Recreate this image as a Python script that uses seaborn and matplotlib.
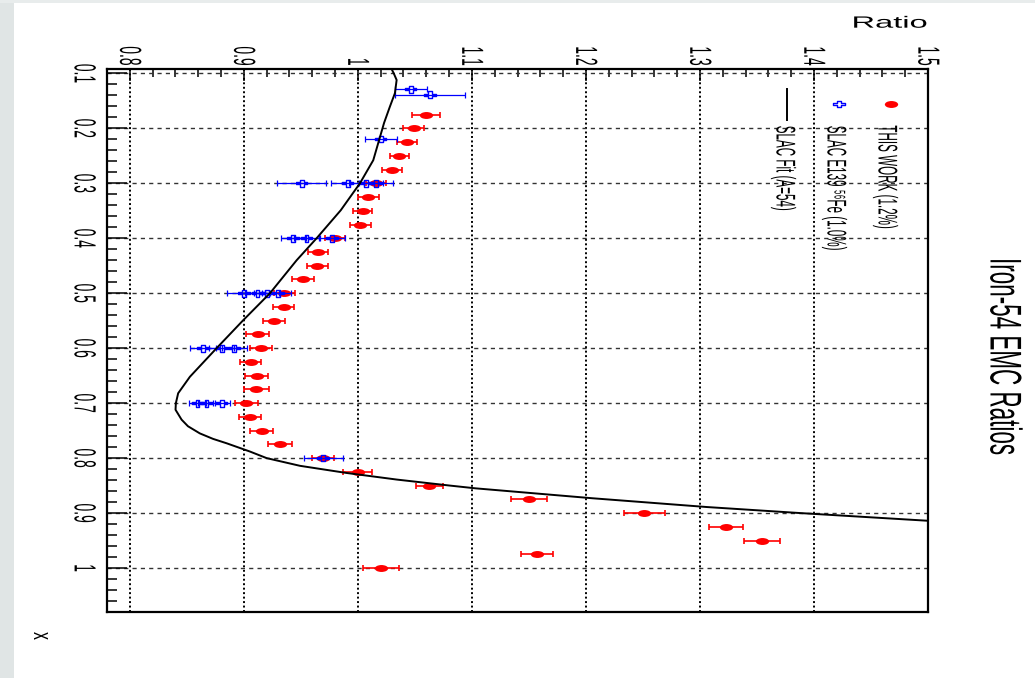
import numpy as np
import matplotlib
matplotlib.use("Agg")
import matplotlib.pyplot as plt
import seaborn as sns
from matplotlib.path import Path
from matplotlib.transforms import Affine2D
from matplotlib.patheffects import AbstractPathEffect
from matplotlib.ticker import MultipleLocator
from matplotlib.lines import Line2D
from matplotlib.patches import Rectangle

# ---------------- data ----------------
this_x = [0.175, 0.200, 0.225, 0.250, 0.275, 0.300, 0.325, 0.350, 0.375, 0.400,
          0.425, 0.450, 0.475, 0.500, 0.525, 0.550, 0.575, 0.600, 0.625, 0.650,
          0.675, 0.700, 0.725, 0.750, 0.775, 0.800, 0.825, 0.850, 0.875, 0.900,
          0.925, 0.950, 0.975, 1.000]
this_ratio = [1.0595, 1.0489, 1.0431, 1.0363, 1.0302, 1.0157, 1.0091, 1.0042, 1.0021, 0.9799,
              0.9647, 0.9645, 0.9521, 0.9356, 0.9348, 0.9264, 0.9121, 0.9150, 0.9059, 0.9114,
              0.9108, 0.9021, 0.9053, 0.9156, 0.9319, 0.9696, 0.9998, 1.0626, 1.1501, 1.2513,
              1.3230, 1.3543, 1.1569, 1.0200]
this_err = [0.0123, 0.0092, 0.0086, 0.0083, 0.0088, 0.0088, 0.0090, 0.0083, 0.0090, 0.0088,
            0.0088, 0.0090, 0.0097, 0.0095, 0.0095, 0.0095, 0.0102, 0.0095, 0.0092, 0.0102,
            0.0110, 0.0102, 0.0097, 0.0102, 0.0104, 0.0098, 0.0129, 0.0118, 0.0162, 0.0183,
            0.0149, 0.0161, 0.0139, 0.0157]

slac_x = [0.129, 0.139, 0.2195, 0.3, 0.3, 0.3, 0.3, 0.4, 0.4, 0.4,
          0.5, 0.5, 0.5, 0.5, 0.6, 0.6, 0.6, 0.7, 0.7, 0.7, 0.8]
slac_ratio = [1.0463, 1.0635, 1.0200, 0.9507, 0.9910, 1.0071, 1.0159, 0.9433, 0.9550, 0.9775,
              0.9003, 0.9120, 0.9200, 0.9300, 0.8643, 0.8805, 0.8915, 0.8594, 0.8673, 0.8805,
              0.9696]
slac_err = [0.0140, 0.0307, 0.0139, 0.0213, 0.0146, 0.0146, 0.0146, 0.0111, 0.0111, 0.0111,
            0.0155, 0.0110, 0.0110, 0.0110, 0.0117, 0.0110, 0.0110, 0.0075, 0.0075, 0.0075,
            0.0171]

fit_x = [0.092, 0.101, 0.112, 0.136, 0.161, 0.190, 0.258, 0.300, 0.349, 0.400,
         0.440, 0.500, 0.549, 0.600, 0.652, 0.682, 0.700, 0.712, 0.730, 0.742,
         0.755, 0.765, 0.773, 0.788, 0.800, 0.814, 0.827, 0.839, 0.850, 0.855,
         0.873, 0.889, 0.900, 0.914]
fit_ratio = [1.0296, 1.0317, 1.0340, 1.0325, 1.0280, 1.0230, 1.0135, 1.0018, 0.9850, 0.9638,
             0.9463, 0.9229, 0.8995, 0.8761, 0.8527, 0.8424, 0.8404, 0.8401, 0.8454, 0.8510,
             0.8614, 0.8730, 0.8849, 0.9053, 0.9200, 0.9492, 0.9900, 1.0340, 1.0808, 1.1033,
             1.2055, 1.3060, 1.3880, 1.5000]

ratio_ticks = [0.8, 0.9, 1.0, 1.1, 1.2, 1.3, 1.4, 1.5]
ratio_tick_labels = ["0.8", "0.9", "1", "1.1", "1.2", "1.3", "1.4", "1.5"]
x_ticks = [0.1, 0.2, 0.3, 0.4, 0.5, 0.6, 0.7, 0.8, 0.9, 1.0]
x_tick_labels = ["0.1", "0.2", "0.3", "0.4", "0.5", "0.6", "0.7", "0.8", "0.9", "1"]

title_text = "Iron-54 EMC Ratios"
ratio_label = "Ratio"
x_label = "x"
legend_labels = ["THIS WORK (1.2%)", "SLAC E139 \u2075\u2076Fe (1.0%)", "SLAC Fit (A=54)"]

# ---------------- style helpers ----------------
plt.rcParams['font.family'] = ['Liberation Sans', 'DejaVu Sans']


class Squash(AbstractPathEffect):
    """Rescale glyph outlines along the text's own axes (reference text is condensed)."""
    def __init__(self, sx=1.0, sy=1.0, anchor_x='center', anchor_y='center'):
        super().__init__()
        self.sx, self.sy = sx, sy
        self.anchor_x, self.anchor_y = anchor_x, anchor_y

    def draw_path(self, renderer, gc, tpath, affine, rgbFace=None):
        if len(tpath.vertices):
            e = tpath.get_extents()
            cx = {'min': e.x0, 'max': e.x1, 'center': 0.5 * (e.x0 + e.x1)}[self.anchor_x]
            cy = {'min': e.y0, 'max': e.y1, 'center': 0.5 * (e.y0 + e.y1)}[self.anchor_y]
            t = Affine2D().translate(-cx, -cy).scale(self.sx, self.sy).translate(cx, cy)
            affine = t + affine
        renderer.draw_path(gc, tpath, affine, rgbFace)


W, H = 1035, 678
PT = 0.72  # points per pixel at dpi 100


def fx(px):
    return px / W


def fy(py):
    return 1 - py / H


fig = plt.figure(figsize=(W / 100, H / 100), dpi=100)
fig.patch.set_facecolor('white')
# screenshot border (light grey strip on the left and top)
fig.add_artist(Rectangle((0, 0), fx(14), 1, transform=fig.transFigure,
                         facecolor='#e0e5e5', edgecolor='none', zorder=-5))
fig.add_artist(Rectangle((0, fy(3)), 1, 3 / H, transform=fig.transFigure,
                         facecolor='#e8ecec', edgecolor='none', zorder=-5))

L, R, T, B = 107, 928, 69, 612
ax = fig.add_axes([fx(L), fy(B), (R - L) / W, (B - T) / H])
ax.set_facecolor('white')

# custom squashed markers
ellipse = Affine2D().scale(1.0, 0.52).transform_path(Path.unit_circle())
a = 0.33
cross_verts = [(-a, 1), (a, 1), (a, a), (1, a), (1, -a), (a, -a), (a, -1), (-a, -1),
               (-a, -a), (-1, -a), (-1, a), (-a, a), (-a, 1)]
cross = Path([(vx, vy * 0.58) for vx, vy in cross_verts], closed=True)

# ---------------- data layers ----------------
ax.errorbar(this_ratio, this_x, xerr=this_err, fmt='none', ecolor='#ff0000',
            elinewidth=1.2, capsize=2.5, capthick=1.2, zorder=2)
sns.scatterplot(x=this_ratio, y=this_x, marker=ellipse, s=92, color='#ff0000',
                edgecolor='#ff0000', linewidth=0, ax=ax, zorder=3, legend=False)

ax.errorbar(slac_ratio, slac_x, xerr=slac_err, fmt='none', ecolor='#0000ff',
            elinewidth=0.9, capsize=2.3, capthick=0.9, zorder=4)
sns.scatterplot(x=slac_ratio, y=slac_x, marker=cross, s=70, color='#0000ff',
                facecolor='none', edgecolor='#0000ff', linewidth=1.0, ax=ax,
                zorder=5, legend=False)

sns.lineplot(x=fit_ratio, y=fit_x, sort=False, estimator=None, color='black',
             lw=1.4, ax=ax, zorder=6, legend=False)

# ---------------- axes ----------------
ax.set_xlim(0.78, 1.5)
ax.set_ylim(1.08, 0.092)
ax.set_xlabel("")
ax.set_ylabel("")

ax.set_xticks(ratio_ticks)
ax.set_xticklabels(ratio_tick_labels)
ax.xaxis.set_minor_locator(MultipleLocator(0.02))
ax.set_yticks(x_ticks)
ax.set_yticklabels(x_tick_labels)
ax.yaxis.set_minor_locator(MultipleLocator(0.02))

ax.tick_params(axis='x', which='both', direction='in', top=True, bottom=False,
               labeltop=True, labelbottom=False, color='black', width=1.1,
               labelsize=10, pad=2.5)
ax.tick_params(axis='x', which='major', length=12 * PT)
ax.tick_params(axis='x', which='minor', length=8 * PT)
ax.tick_params(axis='y', which='both', direction='in', left=True, right=False,
               labelleft=True, labelright=False, color='black', width=1.1,
               labelsize=10, pad=11.3)
ax.tick_params(axis='y', which='major', length=20 * PT)
ax.tick_params(axis='y', which='minor', length=10 * PT)

# tick labels: condensed, tall glyphs (small font, glyph height stretched)
for lab in ax.get_xticklabels():
    lab.set_rotation(-90)
    lab.set_ha('center')
    lab.set_va('bottom')
    lab.set_path_effects([Squash(sy=2.2)])
for lab in ax.get_yticklabels():
    lab.set_rotation(-90)
    lab.set_ha('right')
    lab.set_va('center')
    lab.set_path_effects([Squash(sy=2.2)])

ax.grid(axis='x', which='major', linestyle=(0, (1, 1.3)), color='black', lw=1.4, zorder=1)
ax.grid(axis='y', which='major', linestyle=(0, (3, 3)), color='#333333', lw=1.0, zorder=1)
ax.set_axisbelow(True)

for sp in ax.spines.values():
    sp.set_color('black')
    sp.set_linewidth(1.6)
    sp.set_zorder(10)

# ---------------- texts ----------------
fig.text(fx(1002), fy(356), title_text, rotation=-90, ha='center', va='center',
         fontsize=32, color='black', path_effects=[Squash(sx=0.505)])
fig.text(fx(927.5), fy(25), ratio_label, rotation=0, ha='right', va='center',
         fontsize=23.5, color='black', path_effects=[Squash(sy=0.5)])
fig.text(fx(41), fy(636), x_label, rotation=-90, ha='center', va='center',
         fontsize=19, color='black', path_effects=[Squash(sx=0.6)])

# legend (rotated like the rest of the picture)
leg_base = [878, 827, 776]
for lbl, xb in zip(legend_labels, leg_base):
    fig.text(fx(xb - 5.5), fy(125), lbl, rotation=-90, ha='left', va='top',
             fontsize=19.5, color='black',
             path_effects=[Squash(sx=0.43, anchor_x='min')])

fig.add_artist(Line2D([fx(890.7)], [fy(103.7)], transform=fig.transFigure,
                      marker=ellipse, markersize=9.6, color='#ff0000',
                      markeredgewidth=0, linestyle='none'))
fig.add_artist(Line2D([fx(839)], [fy(103.7)], transform=fig.transFigure,
                      marker=cross, markersize=8.4, markerfacecolor='none',
                      markeredgecolor='#0000ff', markeredgewidth=1.0, linestyle='none'))
fig.add_artist(Line2D([fx(786.5), fx(786.5)], [fy(89), fy(120)], transform=fig.transFigure,
                      color='black', lw=1.4))

fig.savefig("out.png", dpi=100, facecolor=fig.get_facecolor())
